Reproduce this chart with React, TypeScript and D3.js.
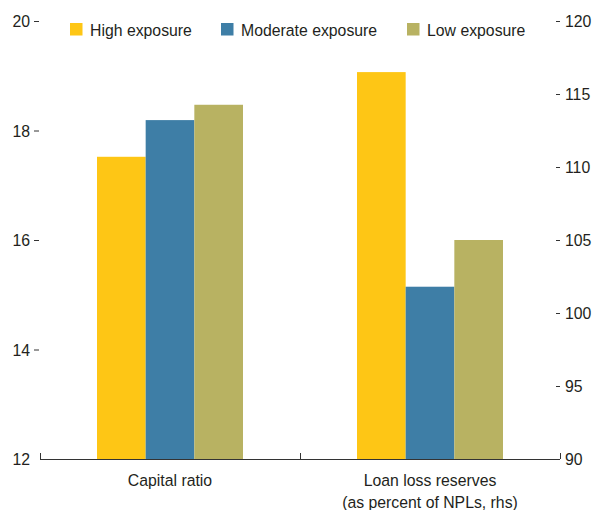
import React from "react";
import * as d3 from "d3";

const categories = ["Capital ratio", "Loan loss reserves"];
const categoryLines = [["Capital ratio"], ["Loan loss reserves", "(as percent of NPLs, rhs)"]];
const seriesNames = ["High exposure", "Moderate exposure", "Low exposure"];
const seriesColors = ["#FEC615", "#3E7EA6", "#B8B262"];
const capitalRatio = [17.52, 18.19, 18.47];
const loanLossReserves = [116.5, 101.8, 105.0];
const leftTicks = [12, 14, 16, 18, 20];
const rightTicks = [90, 95, 100, 105, 110, 115, 120];

const FONT = "'Liberation Sans', Arial, sans-serif";
const TXT = "#231F20";
const FS = 17;
const SX = 0.93;

function T({ x, y, anchor = "start", children }: { x: number; y: number; anchor?: string; children: React.ReactNode }) {
  return (
    <text transform={`translate(${x},${y}) scale(${SX},1)`} textAnchor={anchor} fontSize={FS} fill={TXT}>
      {children}
    </text>
  );
}

export default function App() {
  const W = 596, H = 510;
  const yTop = 21, yBot = 459;
  const yL = d3.scaleLinear().domain([12, 20]).range([yBot, yTop]);
  const yR = d3.scaleLinear().domain([90, 120]).range([yBot, yTop]);
  const x = d3.scaleBand<string>().domain(categories).range([40, 560]);
  const groupW = 146;
  const xs = d3.scaleBand<string>().domain(seriesNames).range([0, groupW]);
  const groups = [
    { cat: categories[0], vals: capitalRatio, scale: yL },
    { cat: categories[1], vals: loanLossReserves, scale: yR },
  ];
  const legendX = [70, 221, 407];
  return (
    <svg width={W} height={H} style={{ position: "absolute", left: 0, top: 0, background: "#fff" }}
      fontFamily={FONT}>
      {groups.map((g, gi) => {
        const cx = (x(g.cat) as number) + x.bandwidth() / 2;
        return (
          <g key={gi}>
            {g.vals.map((v, i) => (
              <rect key={i} x={cx - groupW / 2 + (xs(seriesNames[i]) as number)} width={xs.bandwidth()}
                y={g.scale(v)} height={yBot - g.scale(v)} fill={seriesColors[i]} />
            ))}
          </g>
        );
      })}
      <line x1={40} x2={560} y1={yBot + 0.5} y2={yBot + 0.5} stroke="#333" strokeWidth={1.2} />
      {[40, 300, 560].map((tx, i) => (
        <line key={i} x1={tx + 0.5} x2={tx + 0.5} y1={yBot - 6} y2={yBot} stroke="#333" strokeWidth={1} />
      ))}
      {leftTicks.map((t) => (
        <g key={"l" + t}>
          <T x={30} y={yL(t) + 6} anchor="end">{t}</T>
          {t !== 12 && <line x1={34} x2={39} y1={yL(t) + 0.5} y2={yL(t) + 0.5} stroke="#333" strokeWidth={1} />}
        </g>
      ))}
      {rightTicks.map((t) => (
        <g key={"r" + t}>
          <T x={565} y={yR(t) + 6}>{t}</T>
          {t !== 90 && <line x1={556} x2={560} y1={yR(t) + 0.5} y2={yR(t) + 0.5} stroke="#333" strokeWidth={1} />}
        </g>
      ))}
      {categories.map((c, ci) => {
        const cx = (x(c) as number) + x.bandwidth() / 2;
        return categoryLines[ci].map((ln, li) => (
          <T key={c + li} x={cx} y={486 + li * 22} anchor="middle">{ln}</T>
        ));
      })}
      {seriesNames.map((s, i) => (
        <g key={s}>
          <rect x={legendX[i]} y={23} width={12.5} height={12.5} fill={seriesColors[i]} />
          <T x={legendX[i] + 20} y={35.5}>{s}</T>
        </g>
      ))}
    </svg>
  );
}
